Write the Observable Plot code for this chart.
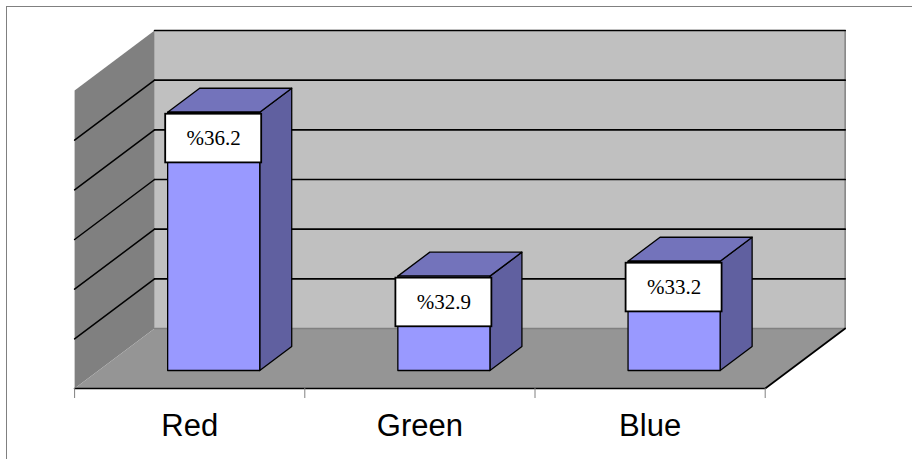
<!DOCTYPE html>
<html>
<head>
<meta charset="utf-8">
<script src="https://cdn.jsdelivr.net/npm/d3@7"></script>
<script src="https://cdn.jsdelivr.net/npm/@observablehq/plot@0.6"></script>
<style>
  html, body { margin: 0; background: #fff; }
  #chart { position: relative; width: 912px; height: 459px; overflow: hidden; }
  #chart svg { position: absolute; left: 0; top: 0; background: transparent; }
  #edge { position: absolute; left: 6px; top: 6px; right: -2px; bottom: -2px;
          border-left: 1.5px solid #808080; border-top: 1.5px solid #808080; }
</style>
</head>
<body>
<div id="chart"><div id="edge"></div></div>
<script>
const categories = ["Red", "Green", "Blue"];
const shares = [36.2, 32.9, 33.2];
const gridValues = [31, 32, 33, 34, 35, 36, 37];
const categoryTicks = [0, 1, 2, 3];

// Oblique projection: one full unit of depth shifts a point along both axes.
const depthX = 0.3474;  // in category widths
const depthY = 1.208;   // in value units
const at = (x, y, d) => ({x: x + d * depthX, y: y + d * depthY});
const poly = (...corners) => corners.map(([x, y, d]) => at(x, y, d));

const baseValue = 31;
const topValue = 37;
const barInset = 0.3;    // bar starts this far into each category
const barWidth = 0.4;
const depthNear = 0.3;
const depthFar = 0.7;
const boxWidth = 0.417;
const boxHeight = 0.98;
const boxDrop = 0.04;

const wallBack = poly([0, baseValue, 1], [3, baseValue, 1], [3, topValue, 1], [0, topValue, 1]);
const wallLeft = poly([0, baseValue, 0], [0, baseValue, 1], [0, topValue, 1], [0, topValue, 0]);
const floor = poly([0, baseValue, 0], [3, baseValue, 0], [3, baseValue, 1], [0, baseValue, 1]);

const facesOf = (kind) => shares.flatMap((v, i) => {
  const a = i + barInset, b = a + barWidth, n = depthNear, f = depthFar, z = baseValue;
  const corners = {
    front: [[a, z, n], [b, z, n], [b, v, n], [a, v, n]],
    side: [[b, z, n], [b, z, f], [b, v, f], [b, v, n]],
    top: [[a, v, n], [b, v, n], [b, v, f], [a, v, f]]
  }[kind];
  return poly(...corners).map((p) => ({...p, bar: i}));
});

const gridBack = gridValues.slice(1).flatMap((v) => poly([0, v, 1], [3, v, 1]).map((p) => ({...p, v})));
const gridLeft = gridValues.slice(1, -1).flatMap((v) => poly([0, v, 0], [0, v, 1]).map((p) => ({...p, v})));
const floorEdge = poly([0, baseValue, 0], [3, baseValue, 0], [3, baseValue, 1]);
const backEdge = poly([0, baseValue, 1], [3, baseValue, 1], [3, topValue, 1]);

const boxes = shares.map((v, i) => {
  const c = at(i + barInset + barWidth / 2, v - boxDrop, depthNear);
  return {
    x1: c.x - boxWidth / 2,
    x2: c.x + boxWidth / 2,
    y1: c.y - boxHeight,
    y2: c.y,
    cy: c.y - boxHeight / 2,
    cx: c.x,
    label: `%${v}`
  };
});

const face = (data, fill) => Plot.line(data, {
  x: "x", y: "y", z: "bar", fill, stroke: "#000", strokeWidth: 1.3,
  curve: "linear-closed", strokeLinejoin: "round"
});

const chart = Plot.plot({
  width: 912,
  height: 459,
  marginLeft: 74.1,
  marginRight: 147.3,
  marginTop: 90,
  marginBottom: 71,
  x: {domain: [0, 3], axis: null},
  y: {domain: [baseValue, topValue], axis: null},
  style: {background: "transparent"},
  marks: [
    Plot.line(wallBack, {x: "x", y: "y", fill: "#c0c0c0", curve: "linear-closed"}),
    Plot.line(wallLeft, {x: "x", y: "y", fill: "#808080", curve: "linear-closed"}),
    Plot.line(floor, {x: "x", y: "y", fill: "#959595", curve: "linear-closed"}),
    Plot.line(backEdge, {x: "x", y: "y", stroke: "#808080", strokeWidth: 1.5}),
    Plot.line(gridBack, {x: "x", y: "y", z: "v", stroke: "#000", strokeWidth: 1.7}),
    Plot.line(gridLeft, {x: "x", y: "y", z: "v", stroke: "#000", strokeWidth: 1.5}),
    Plot.line(floorEdge, {x: "x", y: "y", stroke: "#000", strokeWidth: 1.7}),
    Plot.axisX(categoryTicks, {
      tickSize: 10, tickFormat: () => "", stroke: "#808080", label: null
    }),
    Plot.axisX(categoryTicks.slice(0, -1).map((t) => t + 0.5), {
      tickSize: 0, tickPadding: 25.5, label: null,
      tickFormat: (t) => categories[t - 0.5],
      fontSize: 31, fontFamily: "Liberation Sans", fill: "#000"
    }),
    face(facesOf("side"), "#6060a0"),
    face(facesOf("top"), "#7373bb"),
    face(facesOf("front"), "#9999ff"),
    Plot.rect(boxes, {
      x1: "x1", x2: "x2", y1: "y1", y2: "y2",
      fill: "#fff", stroke: "#000", strokeWidth: 1.8
    }),
    Plot.text(boxes, {
      x: "cx", y: "cy", text: "label",
      fontFamily: "Liberation Serif", fontSize: 21, fill: "#000"
    })
  ]
});

document.getElementById("chart").append(chart);
</script>
</body>
</html>
